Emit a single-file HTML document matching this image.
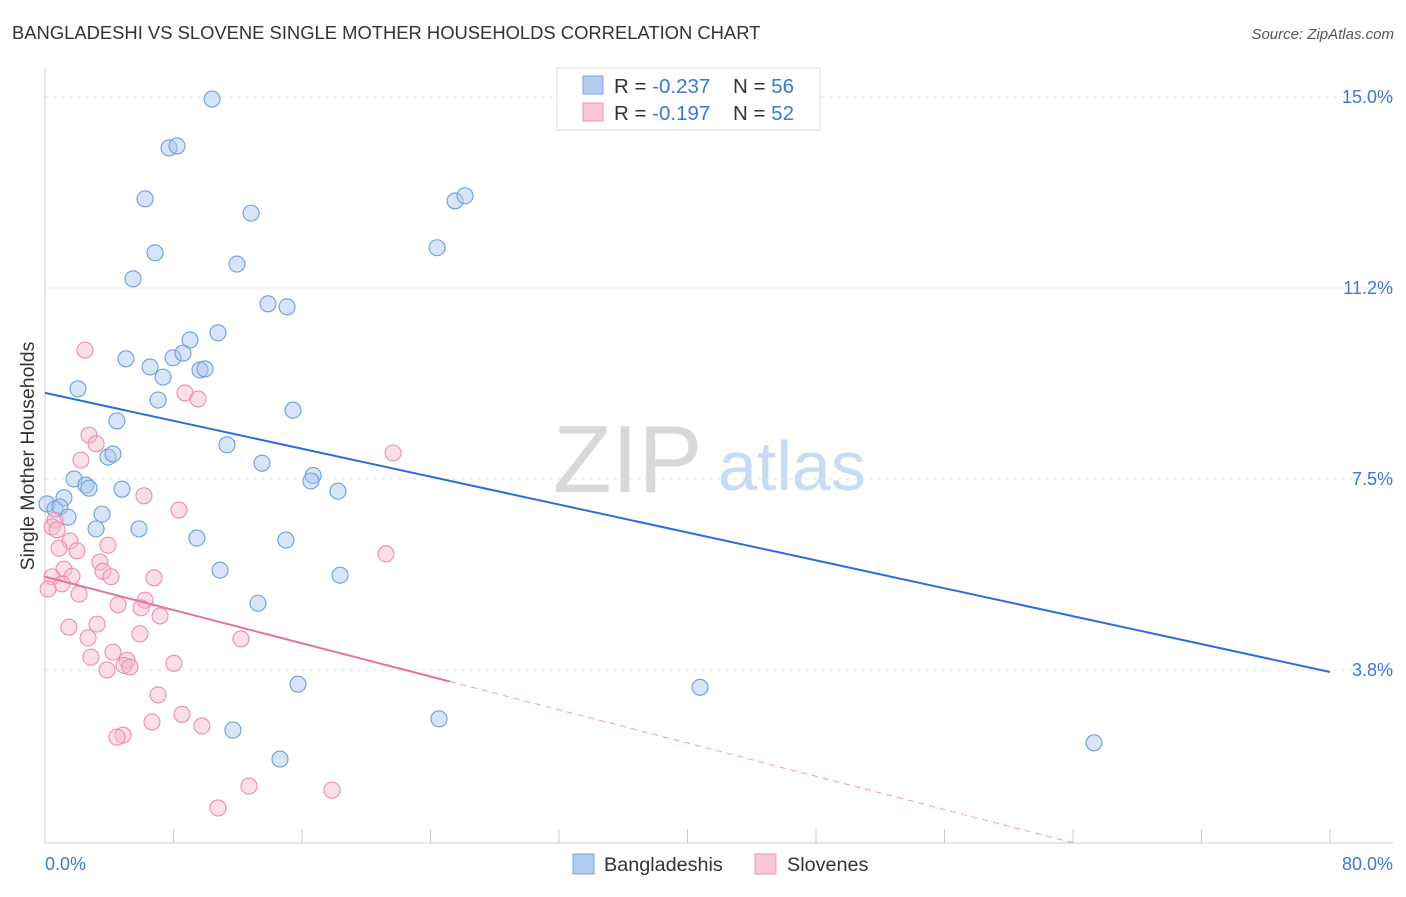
<!DOCTYPE html>
<html><head><meta charset="utf-8"><style>
body{margin:0;background:#fff;font-family:"Liberation Sans",sans-serif;}
svg text{font-family:"Liberation Sans",sans-serif;}
</style></head><body>
<svg id="chart" width="1406" height="892" viewBox="0 0 1406 892">
<text x="12" y="39" font-size="18.4" fill="#333">BANGLADESHI VS SLOVENE SINGLE MOTHER HOUSEHOLDS CORRELATION CHART</text>
<text x="1394" y="39" font-size="15" fill="#555" font-style="italic" text-anchor="end">Source: ZipAtlas.com</text>
<g>
<text x="553" y="492" font-size="96" fill="#d8d8d8" font-family="Liberation Serif,serif">ZIP</text>
<text x="718" y="490" font-size="70" fill="#c8dbf3">atlas</text>
</g>
<text transform="translate(34,456) rotate(-90)" font-size="19.5" fill="#333" text-anchor="middle">Single Mother Households</text>
<g id="grid"></g><g id="axes"></g>
<defs><clipPath id="plotclip"><rect x="45" y="60" width="1350" height="783"/></clipPath></defs>
<g id="pts"></g>
<g id="trends" clip-path="url(#plotclip)"></g>
<g>
<rect x="557" y="68" width="263" height="62" fill="#fff" stroke="#ddd"/>
<rect x="583" y="76" width="20" height="18" fill="#b3cdf1" stroke="#7aa5de"/>
<rect x="583" y="103" width="20" height="18" fill="#f8c6d5" stroke="#eb98b4"/>
<text x="614" y="93" font-size="20.5" fill="#333">R = <tspan fill="#3b78d8">-0.237</tspan></text>
<text x="733" y="93" font-size="20.5" fill="#333">N = <tspan fill="#3b78d8">56</tspan></text>
<text x="614" y="120" font-size="20.5" fill="#333">R = <tspan fill="#3b78d8"> -0.197</tspan></text>
<text x="733" y="120" font-size="20.5" fill="#333">N = <tspan fill="#3b78d8">52</tspan></text>
</g>
<g>
<rect x="573" y="854" width="21" height="20" fill="#b3cdf1" stroke="#7aa5de"/>
<text x="604" y="871" font-size="19.8" fill="#333">Bangladeshis</text>
<rect x="755" y="854" width="21" height="20" fill="#f8c6d5" stroke="#eb98b4"/>
<text x="787" y="871" font-size="19.8" fill="#333">Slovenes</text>
</g>
</svg>
<script>
const yTicks=[15.0,11.25,7.5,3.75];
const yTickLabels=["15.0%","11.2%","7.5%","3.8%"];
const xTicks=[0,8,16,24,32,40,48,56,64,72,80];
const xEndLabels=["0.0%","80.0%"];
const blueX=[10.40,7.72,8.22,6.23,12.83,25.53,26.15,24.41,6.85,11.95,5.48,13.88,15.07,10.77,9.03,5.04,6.54,7.97,8.59,7.35,9.65,9.96,2.05,7.04,15.44,4.48,11.33,3.92,4.23,13.51,16.69,16.56,18.24,1.81,2.55,2.74,4.79,1.18,0.12,0.62,0.93,1.43,3.55,3.18,5.85,9.46,15.00,10.90,18.37,13.26,15.75,40.78,24.53,11.70,14.63,65.31];
const blueY=[14.96,14.00,14.04,13.00,12.72,12.96,13.06,12.04,11.94,11.72,11.43,10.94,10.88,10.37,10.23,9.86,9.70,9.88,9.97,9.50,9.64,9.66,9.27,9.05,8.85,8.64,8.17,7.93,7.99,7.81,7.57,7.46,7.26,7.50,7.38,7.32,7.30,7.13,7.01,6.91,6.95,6.75,6.81,6.52,6.52,6.34,6.30,5.71,5.61,5.06,3.47,3.41,2.79,2.57,2.00,2.32];
const pinkX=[2.49,8.72,9.53,2.74,3.18,21.67,2.24,6.16,8.34,0.62,0.44,0.75,1.56,3.92,0.87,1.99,21.23,3.42,1.18,3.61,1.68,4.11,6.79,0.44,1.06,0.19,2.12,6.23,4.55,5.98,7.16,1.49,3.24,5.91,2.68,12.20,4.23,2.86,5.11,8.03,4.92,5.29,3.86,7.04,8.53,6.66,9.77,4.86,4.48,12.70,17.87,10.77];
const pinkY=[10.03,9.19,9.07,8.36,8.19,8.01,7.87,7.17,6.89,6.69,6.56,6.50,6.28,6.20,6.14,6.09,6.03,5.87,5.73,5.69,5.59,5.58,5.56,5.58,5.44,5.34,5.24,5.12,5.03,4.97,4.81,4.59,4.65,4.46,4.38,4.36,4.10,4.00,3.94,3.88,3.84,3.81,3.75,3.26,2.88,2.73,2.65,2.47,2.43,1.47,1.39,1.04];
const blueTrend=[9.19,3.71];   // y at x=0, x=80
const pinkTrend=[5.58,-0.95];  // y at x=0, x=80
const pinkSolidEnd=25.2;
const NS="http://www.w3.org/2000/svg";
const xs=v=>45+v/80*1285;
const ys=v=>97+(15-v)*50.93;
function mk(t,a,p){const e=document.createElementNS(NS,t);for(const k in a)e.setAttribute(k,a[k]);p.appendChild(e);return e;}
const grid=document.getElementById('grid'),axes=document.getElementById('axes'),pts=document.getElementById('pts'),tr=document.getElementById('trends');
yTicks.forEach((v,i)=>{
 const l=mk('line',{x1:45,x2:1393,y1:ys(v),y2:ys(v),stroke:'#e3e3e3','stroke-dasharray':'4,4'},grid);
 
 
 const t=mk('text',{x:1393,y:ys(v)+6,'font-size':18,fill:'#3b78d8','text-anchor':'end'},grid);
 t.textContent=yTickLabels[i];
 
 
});
const la=mk('line',{x1:45,x2:45,y1:68,y2:843,stroke:'#ccc'},axes);


const ba=mk('line',{x1:45,x2:1393,y1:843,y2:843,stroke:'#ccc'},axes);


xTicks.forEach(v=>{
 const t=mk('line',{x1:xs(v),x2:xs(v),y1:829,y2:843,stroke:'#ccc'},axes);
 
 
});
const xl0=mk('text',{x:45,y:870,'font-size':18,fill:'#3b78d8'},axes);xl0.textContent=xEndLabels[0];


const xl1=mk('text',{x:1393,y:870,'font-size':18,fill:'#3b78d8','text-anchor':'end'},axes);xl1.textContent=xEndLabels[1];


function dots(X,Y,fill,stroke,name){X.forEach((x,i)=>{
 const c=mk('circle',{cx:xs(x),cy:ys(Y[i]),r:8,fill:fill,'fill-opacity':0.45,stroke:stroke,'stroke-width':1.1},pts);
 
 
});}
dots(blueX,blueY,'#a9c6ef','#6c9edc','bangladeshi-point');
dots(pinkX,pinkY,'#f6b9cc','#e98eae','slovene-point');
const ty=(t,x)=>t[0]+(t[1]-t[0])*x/80;
const bl=mk('line',{x1:xs(0),y1:ys(ty(blueTrend,0)),x2:xs(80),y2:ys(ty(blueTrend,80)),stroke:'#2a6fd6','stroke-width':2},tr);


const pl=mk('line',{x1:xs(0),y1:ys(ty(pinkTrend,0)),x2:xs(pinkSolidEnd),y2:ys(ty(pinkTrend,pinkSolidEnd)),stroke:'#e8709a','stroke-width':2},tr);


const pd=mk('line',{x1:xs(pinkSolidEnd),y1:ys(ty(pinkTrend,pinkSolidEnd)),x2:xs(80),y2:ys(ty(pinkTrend,80)),stroke:'#e8709a','stroke-width':1,'stroke-dasharray':'6,5','stroke-opacity':0.7},tr);


</script>
</body></html>
